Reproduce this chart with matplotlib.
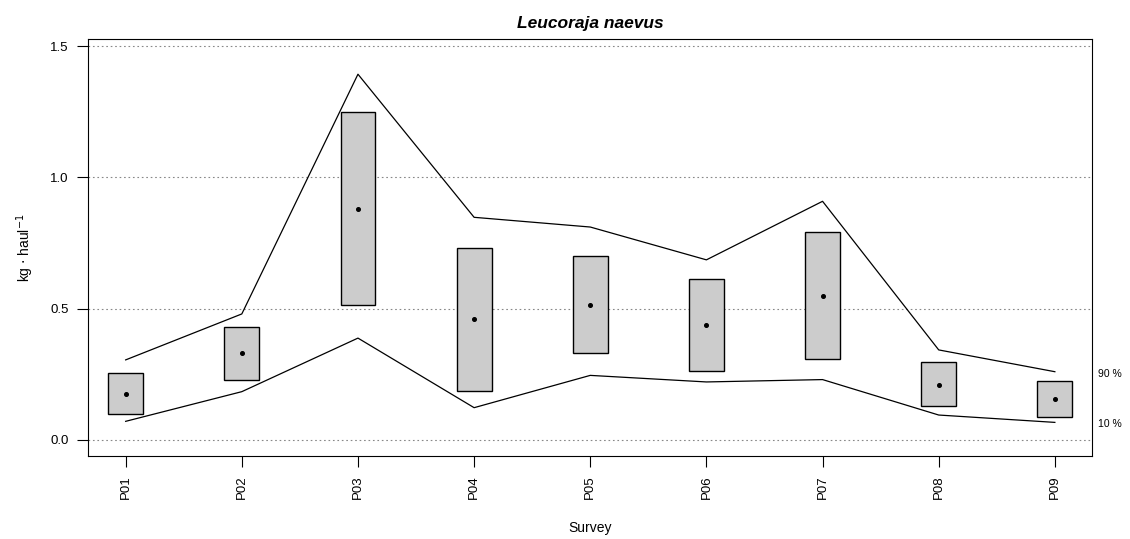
import numpy as np
import matplotlib.pyplot as plt
from matplotlib.patches import Rectangle

plt.rcParams['font.family'] = ['Liberation Sans', 'DejaVu Sans']

surveys = ['P01', 'P02', 'P03', 'P04', 'P05', 'P06', 'P07', 'P08', 'P09']
box_hi = [0.254, 0.431, 1.249, 0.732, 0.702, 0.613, 0.791, 0.296, 0.226]
box_lo = [0.099, 0.227, 0.514, 0.188, 0.330, 0.264, 0.307, 0.129, 0.086]
mean = [0.174, 0.330, 0.878, 0.459, 0.514, 0.437, 0.549, 0.208, 0.156]
q90 = [0.305, 0.480, 1.393, 0.848, 0.811, 0.686, 0.909, 0.343, 0.260]
q10 = [0.071, 0.184, 0.388, 0.123, 0.246, 0.221, 0.230, 0.095, 0.067]

x = np.arange(1, len(surveys) + 1)

fig = plt.figure(figsize=(11.3, 5.39), dpi=100)
ax = fig.add_axes([0.0779, 0.154, 0.8885, 0.7736])

# dotted reference lines at the y ticks
for v in [0.0, 0.5, 1.0, 1.5]:
    ax.axhline(v, color='#888888', linestyle=(0, (1.5, 2.5)), linewidth=0.8, zorder=0)

ax.plot(x, q90, color='black', linewidth=0.9)
ax.plot(x, q10, color='black', linewidth=0.9)

hw = 0.15
for xi, lo, hi in zip(x, box_lo, box_hi):
    ax.add_patch(Rectangle((xi - hw, lo), 2 * hw, hi - lo, facecolor='#cccccc',
                           edgecolor='black', linewidth=1.0, zorder=3))
ax.plot(x, mean, 'o', color='black', markersize=2.6, zorder=4)

ax.text(9.37, q90[-1] - 0.01, '90 %', fontsize=7.5, va='center', ha='left', clip_on=False)
ax.text(9.37, q10[-1] - 0.005, '10 %', fontsize=7.5, va='center', ha='left', clip_on=False)

ax.set_xlim(0.676, 9.32)
ax.set_ylim(-0.061, 1.527)
ax.set_xticks(x)
ax.set_xticklabels(surveys, rotation=90, fontsize=9.5)
ax.set_yticks([0.0, 0.5, 1.0, 1.5])
ax.set_yticklabels(['0.0', '0.5', '1.0', '1.5'], fontsize=9.5)
ax.tick_params(direction='out', length=8, width=0.8, pad=6)

ax.set_title('Leucoraja naevus', fontsize=12.5, fontweight='bold', style='italic', pad=8)
ax.set_xlabel('Survey', fontsize=10, labelpad=16)
ax.set_ylabel(r'kg $\cdot$ haul$^{-1}$', fontsize=10, labelpad=10)

plt.savefig('out.png', dpi=100)
